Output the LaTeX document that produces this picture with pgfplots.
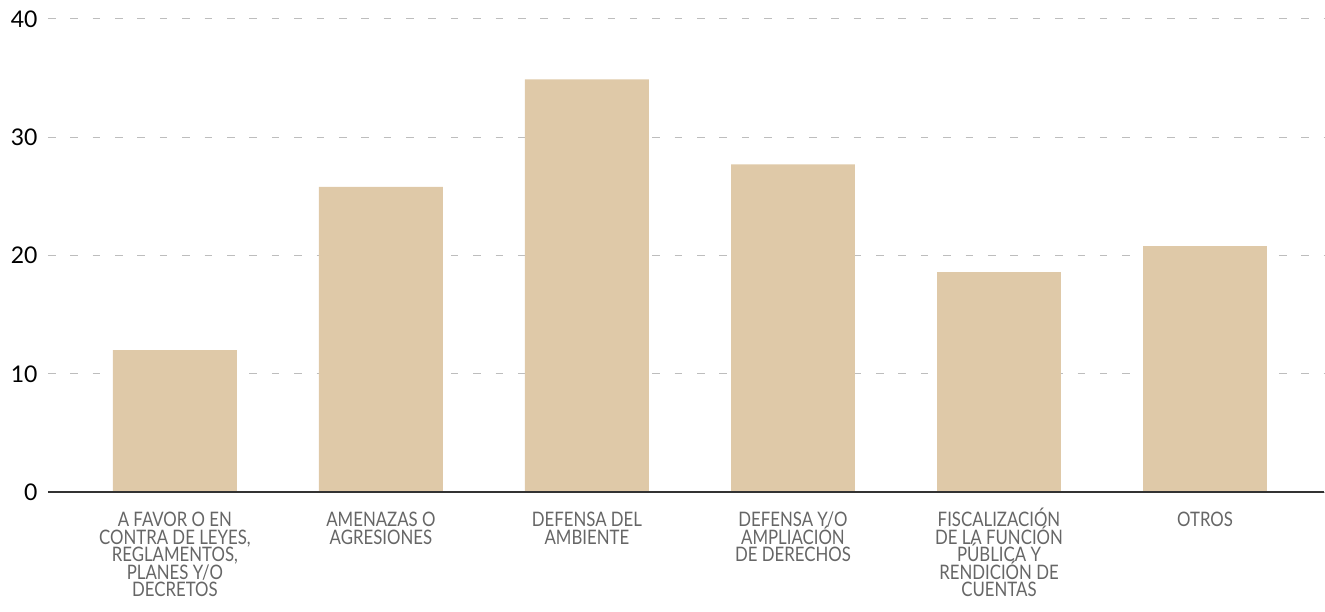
\documentclass[border=0pt]{standalone}
\usepackage{fontspec}
\setmainfont{Lato}
\newfontfamily\labfont[FakeStretch=0.84]{Lato}
\usepackage{pgfplots}
\pgfplotsset{compat=1.18}
\definecolor{barc}{HTML}{DFC9A8}
\definecolor{gridc}{HTML}{BDBDBD}
\definecolor{labc}{HTML}{666666}
\definecolor{axc}{HTML}{333333}
\lineskiplimit=-20pt
\begin{document}
\begin{tikzpicture}
\begin{axis}[name=ax, at={(0,0)}, anchor=south west,
  width=638.5pt, height=236.75pt, scale only axis,
  xmin=-0.616, xmax=5.577, ymin=0, ymax=40,
  axis line style={draw=none},
  major tick length=0pt,
  ytick={0,10,20,30,40},
  ymajorgrids,
  grid style={gridc, line width=0.5pt, dash pattern=on 3.8pt off 7.4pt},
  /pgf/number format/assume math mode=true,
  yticklabel style={font=\fontsize{11.5}{13}\selectfont, text=black, anchor=east, inner sep=0pt, xshift=-5pt},
  xtick={0,1,2,3,4,5},
  xticklabels={
    {\vphantom{Ó}A FAVOR O EN\\CONTRA DE LEYES,\\REGLAMENTOS,\\PLANES Y/O\\DECRETOS},
    {\vphantom{Ó}AMENAZAS O\\AGRESIONES},
    {\vphantom{Ó}DEFENSA DEL\\AMBIENTE},
    {\vphantom{Ó}DEFENSA Y/O\\AMPLIACIÓN\\DE DERECHOS},
    {\vphantom{Ó}FISCALIZACIÓN\\DE LA FUNCIÓN\\PÚBLICA Y\\RENDICIÓN DE\\CUENTAS},
    {\vphantom{Ó}OTROS}},
  xticklabel style={font=\labfont\fontsize{10}{8.75}\selectfont, text=labc, align=center, anchor=north, inner sep=0pt, yshift=-8pt},
  clip=false,
]
\addplot[ybar, fill=barc, draw=none, bar width=62pt] coordinates {(0,12) (1,25.8) (2,34.9) (3,27.7) (4,18.6) (5,20.8)};
\draw[axc, line width=1.1pt] (rel axis cs:0,0) -- (rel axis cs:1,0);
\end{axis}
\path (ax.south west) ++(-24pt,-59.75pt);
\path (ax.north east) ++(0pt,9.5pt);
\end{tikzpicture}
\end{document}
